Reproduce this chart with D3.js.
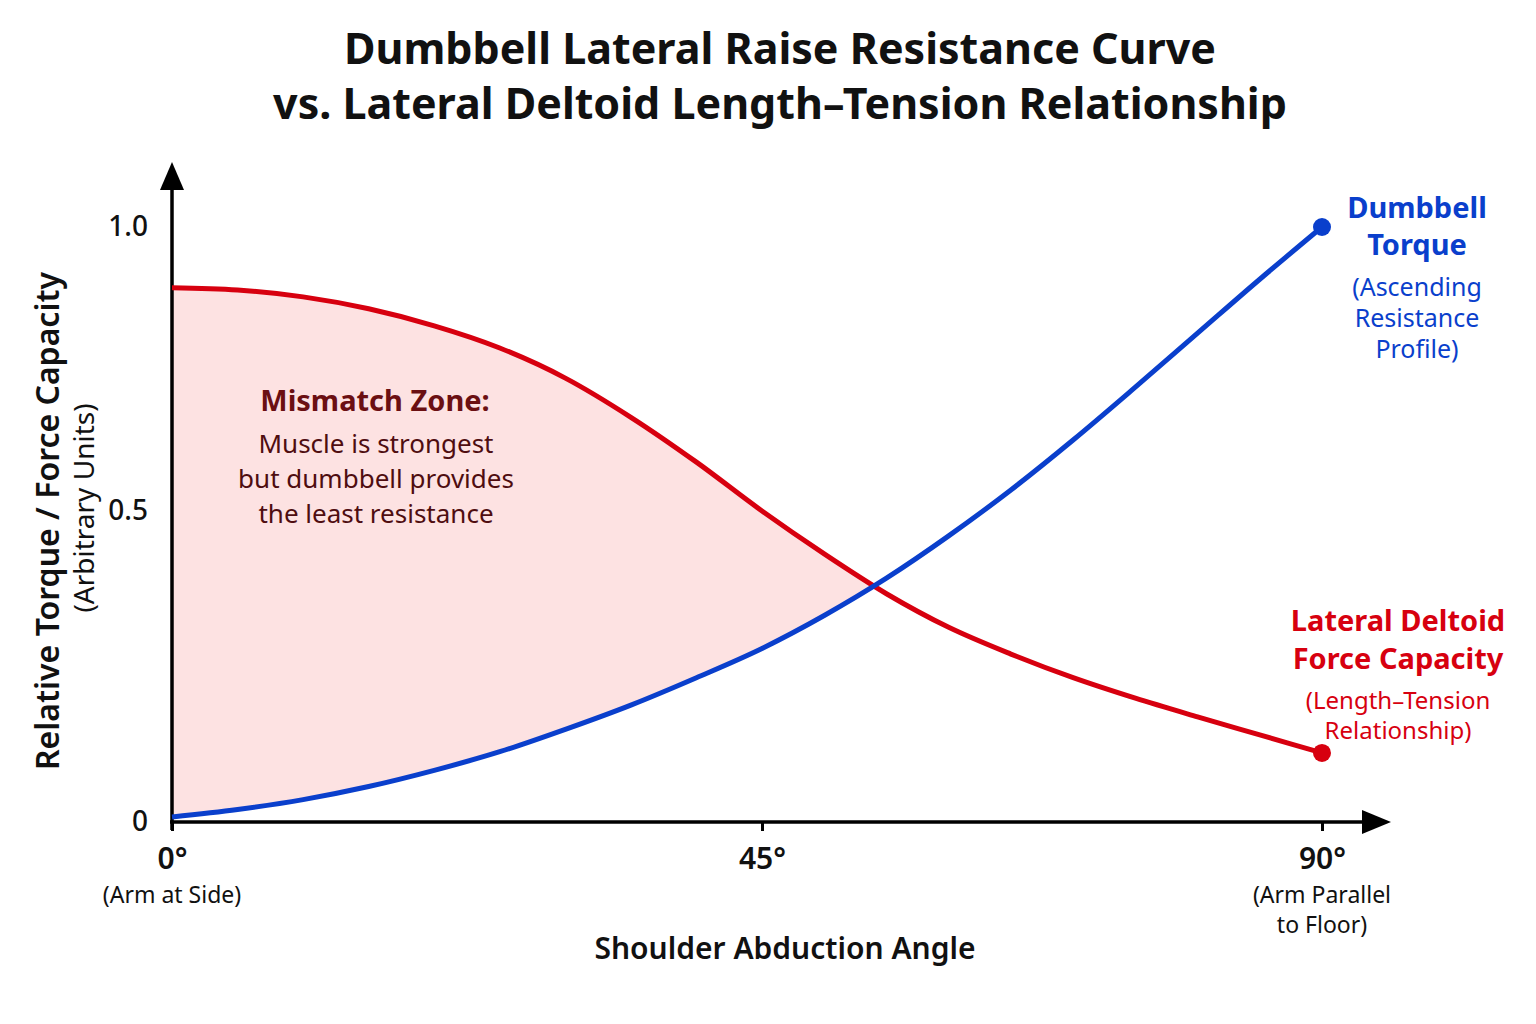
<!DOCTYPE html>
<html>
<head>
<meta charset="utf-8">
<script src="https://cdn.jsdelivr.net/npm/d3@7"></script>
<style>
  body { margin: 0; background: #fff; }
  text { font-family: 'Noto Sans', sans-serif; }
</style>
</head>
<body>
<div id="chart"></div>
<script>
const width = 1536
const height = 1024

// shoulder abduction angle (degrees)
const angles = [0, 5, 10, 15, 20, 25, 30, 35, 40, 45, 50, 55, 60, 65, 70, 75, 80, 85, 90]
// lateral deltoid force capacity (length-tension)
const deltoid = [0.893, 0.889, 0.877, 0.856, 0.826, 0.787, 0.734, 0.665, 0.586, 0.5,
  0.431, 0.367, 0.313, 0.27, 0.232, 0.199, 0.169, 0.14, 0.111]
// dumbbell torque
const torque = [0.008, 0.02, 0.036, 0.057, 0.083, 0.113, 0.149, 0.188, 0.232, 0.279,
  0.332, 0.392, 0.46, 0.537, 0.625, 0.718, 0.813, 0.908, 1.0]
// where the two curves meet
const crossAngle = 54

const xTicks = [0, 45, 90]
const xTickNotes = [['(Arm at Side)'], [], ['(Arm Parallel', 'to Floor)']]
const yTicks = [0, 0.5, 1.0]

const red = '#d7000f'
const blue = '#0a3fcc'

const svg = d3.select('#chart')
  .append('svg')
  .attr('width', width)
  .attr('height', height)

const x = d3.scaleLinear().domain([0, 45, 90]).range([172, 762, 1322])
const y = d3.scaleLinear().domain([0, 0.5, 1]).range([822, 511, 227])

const rows = angles.map((a, i) => ({ a: a, red: deltoid[i], blue: torque[i] }))

// Title
const titleLines = ['Dumbbell Lateral Raise Resistance Curve', 'vs. Lateral Deltoid Length\u2013Tension Relationship']
titleLines.forEach((t, i) => {
  svg.append('text')
    .attr('x', 780).attr('y', 64 + i * 55)
    .attr('text-anchor', 'middle')
    .attr('font-size', 43).attr('font-weight', 700)
    .attr('fill', '#111')
    .text(t)
})

// Mismatch zone fill, clipped to where capacity exceeds resistance
svg.append('clipPath').attr('id', 'zone')
  .append('rect')
  .attr('x', x(0)).attr('y', 0)
  .attr('width', x(crossAngle) - x(0))
  .attr('height', height)

const curve = d3.curveMonotoneX

svg.append('path')
  .datum(rows)
  .attr('clip-path', 'url(#zone)')
  .attr('fill', '#fde2e2')
  .attr('d', d3.area().curve(curve)
    .x(d => x(d.a))
    .y0(d => y(d.blue))
    .y1(d => y(d.red)))

// Axes
const xAxis = svg.append('g')
  .attr('transform', 'translate(0,' + y(0) + ')')
  .call(d3.axisBottom(x).tickValues(xTicks).tickSize(9).tickFormat(d => d + '\u00b0'))
xAxis.select('.domain').remove()
xAxis.selectAll('.tick line').attr('stroke', '#000').attr('stroke-width', 3)
xAxis.selectAll('.tick text')
  .attr('y', 26)
  .attr('font-size', 30).attr('font-weight', 600)
  .attr('font-family', "'Noto Sans', sans-serif")
  .attr('fill', '#111')

xTicks.forEach((t, i) => {
  xTickNotes[i].forEach((line, j) => {
    svg.append('text')
      .attr('x', x(t)).attr('y', 903 + j * 30)
      .attr('text-anchor', 'middle')
      .attr('font-size', 23)
      .attr('fill', '#111')
      .text(line)
  })
})

const yAxis = svg.append('g')
  .attr('transform', 'translate(' + x(0) + ',0)')
  .call(d3.axisLeft(y).tickValues(yTicks).tickSize(0)
    .tickFormat(d => d === 0 ? '0' : d3.format('.1f')(d)))
yAxis.select('.domain').remove()
yAxis.selectAll('.tick text')
  .attr('x', -24)
  .attr('font-size', 28).attr('font-weight', 500)
  .attr('font-family', "'Noto Sans', sans-serif")
  .attr('fill', '#111')

// axis lines with arrows
svg.append('line')
  .attr('x1', x(0)).attr('y1', y(0) + 8)
  .attr('x2', x(0)).attr('y2', 185)
  .attr('stroke', '#000').attr('stroke-width', 3.5)
svg.append('path')
  .attr('d', d3.line()([[x(0), 162], [x(0) - 12, 190], [x(0) + 12, 190]]) + 'Z')
  .attr('fill', '#000')
svg.append('line')
  .attr('x1', x(0) - 2).attr('y1', y(0))
  .attr('x2', 1368).attr('y2', y(0))
  .attr('stroke', '#000').attr('stroke-width', 3.5)
svg.append('path')
  .attr('d', d3.line()([[1391, y(0)], [1362, y(0) - 12], [1362, y(0) + 12]]) + 'Z')
  .attr('fill', '#000')

// axis titles
svg.append('text')
  .attr('x', 785).attr('y', 959)
  .attr('text-anchor', 'middle')
  .attr('font-size', 30).attr('font-weight', 600)
  .attr('fill', '#111')
  .text('Shoulder Abduction Angle')

svg.append('text')
  .attr('transform', 'translate(59,521) rotate(-90)')
  .attr('text-anchor', 'middle')
  .attr('font-size', 32).attr('font-weight', 600)
  .attr('fill', '#111')
  .text('Relative Torque / Force Capacity')
svg.append('text')
  .attr('transform', 'translate(94,508) rotate(-90)')
  .attr('text-anchor', 'middle')
  .attr('font-size', 28)
  .attr('fill', '#111')
  .text('(Arbitrary Units)')

// curves
const line = key => d3.line().curve(curve).x(d => x(d.a)).y(d => y(d[key]))

svg.append('path')
  .datum(rows)
  .attr('fill', 'none')
  .attr('stroke', red)
  .attr('stroke-width', 5)
  .attr('d', line('red'))

svg.append('path')
  .datum(rows)
  .attr('fill', 'none')
  .attr('stroke', blue)
  .attr('stroke-width', 5)
  .attr('d', line('blue'))

// end points
const last = rows[rows.length - 1]
svg.append('circle').attr('cx', x(last.a)).attr('cy', y(last.blue)).attr('r', 9).attr('fill', blue)
svg.append('circle').attr('cx', x(last.a)).attr('cy', y(last.red)).attr('r', 9).attr('fill', red)

// series labels
function label (lines, cx, cy, color) {
  lines.forEach(l => {
    svg.append('text')
      .attr('x', cx).attr('y', cy + l.dy)
      .attr('text-anchor', 'middle')
      .attr('font-size', l.size)
      .attr('font-weight', l.bold ? 700 : 400)
      .attr('fill', color)
      .text(l.t)
  })
}

label([
  { t: 'Dumbbell', dy: 0, size: 29, bold: true },
  { t: 'Torque', dy: 37, size: 29, bold: true },
  { t: '(Ascending', dy: 78, size: 25 },
  { t: 'Resistance', dy: 109, size: 25 },
  { t: 'Profile)', dy: 140, size: 25 }
], 1417, 218, blue)

label([
  { t: 'Lateral Deltoid', dy: 0, size: 29, bold: true },
  { t: 'Force Capacity', dy: 38, size: 29, bold: true },
  { t: '(Length\u2013Tension', dy: 78, size: 24 },
  { t: 'Relationship)', dy: 108, size: 24 }
], 1398, 631, red)

// mismatch annotation
svg.append('text')
  .attr('x', 375).attr('y', 411)
  .attr('text-anchor', 'middle')
  .attr('font-size', 29).attr('font-weight', 700)
  .attr('fill', '#6b0f12')
  .text('Mismatch Zone:')

const notes = ['Muscle is strongest', 'but dumbbell provides', 'the least resistance']
notes.forEach((t, i) => {
  svg.append('text')
    .attr('x', 376).attr('y', 453 + i * 35)
    .attr('text-anchor', 'middle')
    .attr('font-size', 26)
    .attr('fill', '#4f0d10')
    .text(t)
})
</script>
</body>
</html>
